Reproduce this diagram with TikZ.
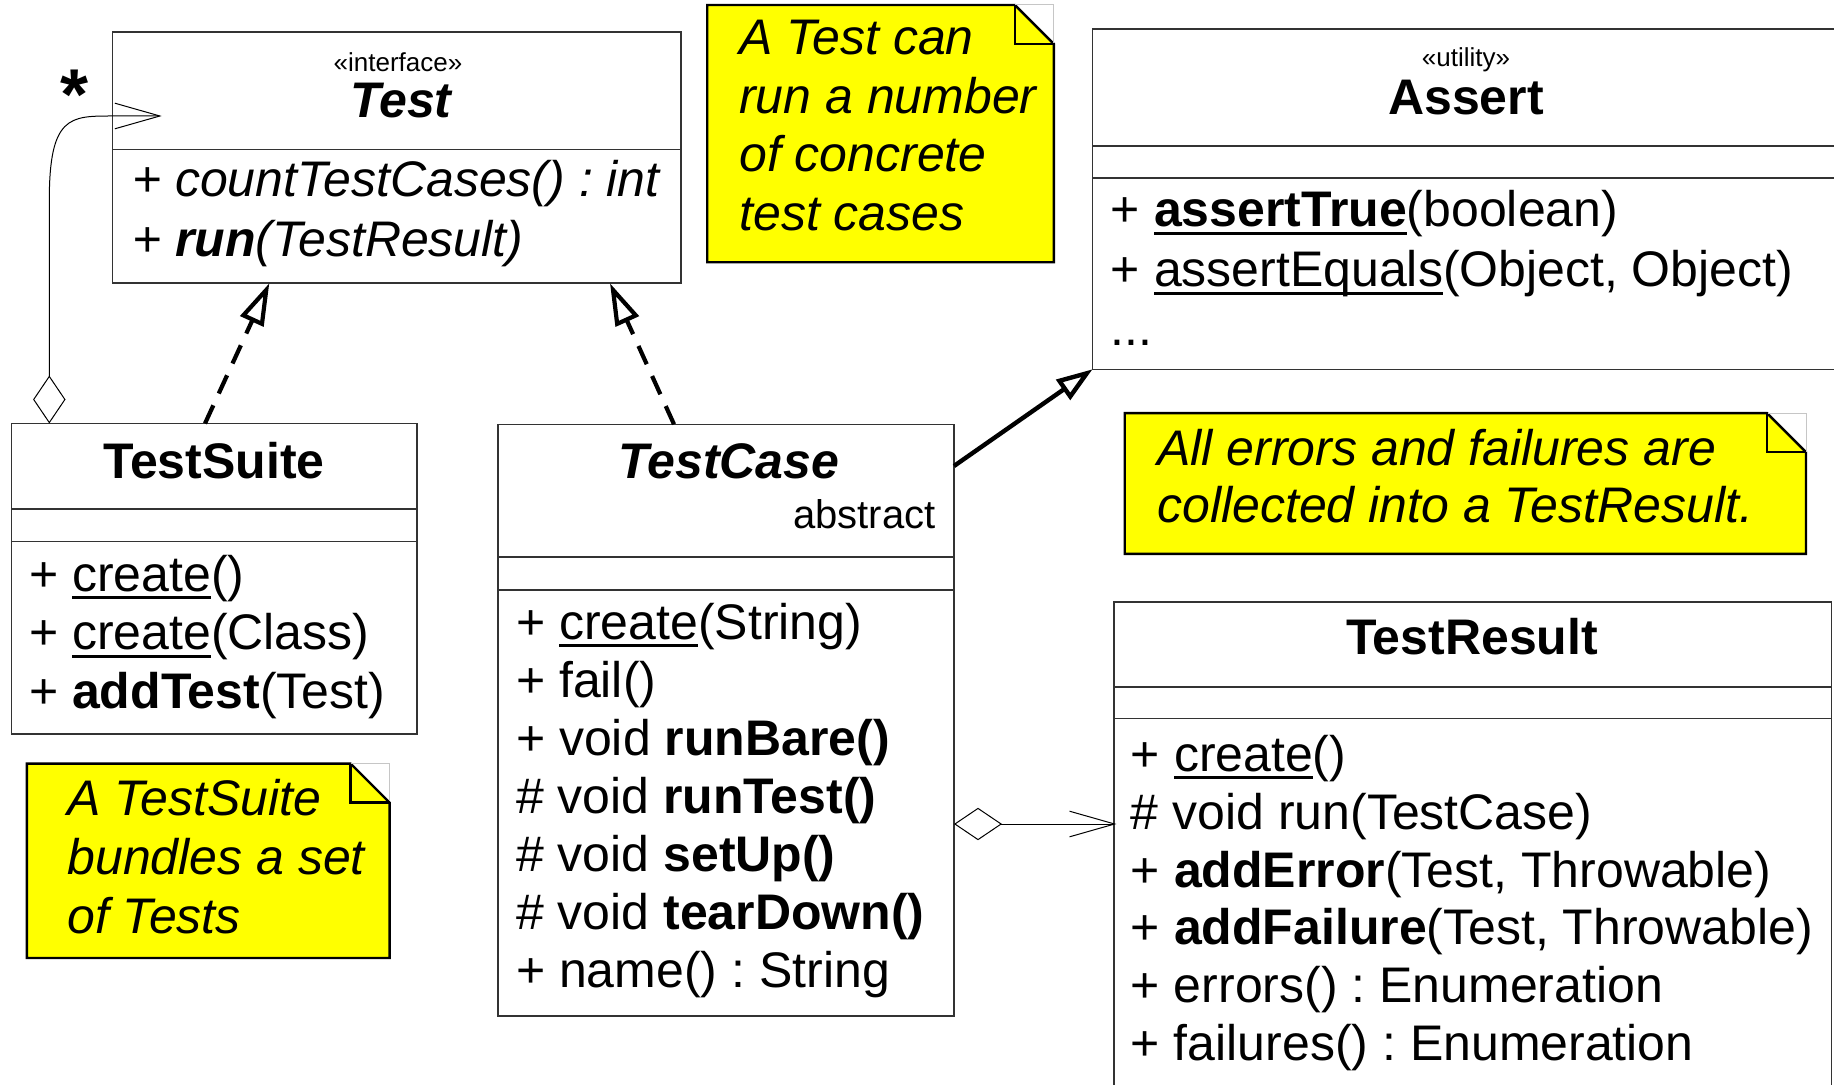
\documentclass[tikz,border=0pt]{standalone}
\usepackage{fontspec}
\setmainfont{Liberation Sans}
\usetikzlibrary{arrows.meta,fit,calc}
\frenchspacing

% underlined (static) operation names
\newcommand\umeth[1]{\setbox0=\hbox{#1}\rlap{\rule[-4pt]{\wd0}{1.5pt}}\box0}
\definecolor{noteyellow}{RGB}{255,255,0}
\definecolor{boxline}{gray}{0.2}

% yellow comment with a folded corner: left, top, right, bottom
\newcommand\yellownote[4]{%
  \path[notebody] (#1,#2) -- ({#3-39},#2) -- (#3,{#2+39}) -- (#3,#4) -- (#1,#4) -- cycle;
  \draw[gray!45, line width=0.5pt] ({#3-39},#2) -- (#3,#2) -- (#3,{#2+39});
  \draw[line width=1.2pt, line join=miter] ({#3-39},#2) -- ({#3-39},{#2+39}) -- (#3,{#2+39});
}

\begin{document}
\begin{tikzpicture}[x=0.5pt,y=-0.5pt,
  classbox/.style={draw=boxline, line width=0.8pt, fill=white, inner sep=0pt, outer sep=0pt},
  divider/.style={draw=boxline, line width=0.8pt},
  member/.style={anchor=base west, inner sep=0pt, font=\fontsize{25}{29}\selectfont},
  imember/.style={member, font=\fontsize{25}{29}\selectfont\itshape},
  classtitle/.style={anchor=base, inner sep=0pt, font=\fontsize{25}{29}\selectfont\bfseries},
  ititle/.style={classtitle, font=\fontsize{25}{29}\selectfont\bfseries\itshape},
  stereo/.style={anchor=base, inner sep=0pt, font=\fontsize{13}{15}\selectfont},
  notetext/.style={anchor=base west, inner sep=0pt, font=\fontsize{25}{29}\selectfont\itshape},
  notebody/.style={fill=noteyellow, draw=black, line width=1.2pt, line join=miter},
  realize/.style={draw=black, line width=2.1pt, dash pattern=on 10pt off 6.5pt,
    -{Triangle[open, length=21pt, width=12.5pt]}},
  generalize/.style={draw=black, line width=2.2pt,
    -{Triangle[open, length=18pt, width=12pt]}},
  aggregate/.style={draw=black, line width=0.5pt,
    {Diamond[open, length=24pt, width=16.2pt]}-{Straight Barb[length=22.5pt, width=12.8pt]}}
]
\useasboundingbox (0,0) rectangle (1834,1085);
\clip (0,0) rectangle (1834,1085);
\fill[white] (0,0) rectangle (1834,1085);

% ---------- Test (interface)
\node[classbox, fit={(112.5,32.3) (680.8,283.3)}] (test) {};
\draw[divider] (test.west |- 0,149.5) -- (test.east |- 0,149.5);
\node[stereo] (test-st) at (398,71.7) {«interface»};
\node[ititle] (test-name) at (401,117.3) {Test};
\node[imember] (test-m1) at (131.7,196.7) {+ countTestCases() : int};
\node[imember] (test-m2) at (131.7,256.7) {+ \textbf{run}(TestResult)};
\node[font=\fontsize{36}{36}\selectfont\bfseries] (mult) at (75,95) {*};

% ---------- TestSuite
\node[classbox, fit={(11.5,423.5) (416.8,733.7)}] (tsuite) {};
\draw[divider] (tsuite.west |- 0,509.2) -- (tsuite.east |- 0,509.2);
\draw[divider] (tsuite.west |- 0,541.6) -- (tsuite.east |- 0,541.6);
\node[classtitle] (tsuite-name) at (214,478.5) {TestSuite};
\node[member] (tsuite-m1) at (28.7,591.3) {+ \umeth{create}()};
\node[member] (tsuite-m2) at (28.7,649.5) {+ \umeth{create}(Class)};
\node[member] (tsuite-m3) at (28.7,708) {+ \textbf{addTest}(Test)};

% ---------- TestCase
\node[classbox, fit={(497.9,424.3) (954,1016)}] (tcase) {};
\draw[divider] (tcase.west |- 0,557) -- (tcase.east |- 0,557);
\draw[divider] (tcase.west |- 0,590) -- (tcase.east |- 0,590);
\node[ititle] (tcase-name) at (729,478.6) {TestCase};
\node[anchor=base east, inner sep=0pt, font=\fontsize{20}{24}\selectfont] (tcase-abs) at (936,528.9) {abstract};
\node[member] (tcase-m1) at (515.7,639.4) {+ \umeth{create}(String)};
\node[member] (tcase-m2) at (515.7,697.4) {+ fail()};
\node[member] (tcase-m3) at (515.7,755.4) {+ void \textbf{runBare()}};
\node[member] (tcase-m4) at (515.7,813.4) {\# void \textbf{runTest()}};
\node[member] (tcase-m5) at (515.7,871.4) {\# void \textbf{setUp()}};
\node[member] (tcase-m6) at (515.7,929.4) {\# void \textbf{tearDown()}};
\node[member] (tcase-m7) at (515.7,987.4) {+ name() : String};

% ---------- Assert (utility)
\node[classbox, fit={(1092.5,29.3) (1845,369.3)}] (assert) {};
\draw[divider] (assert.west |- 0,146) -- (assert.east |- 0,146);
\draw[divider] (assert.west |- 0,177.8) -- (assert.east |- 0,177.8);
\node[stereo] (assert-st) at (1466,66.7) {«utility»};
\node[classtitle] (assert-name) at (1466,115) {Assert};
\node[member] (assert-m1) at (1110.5,226.7) {+ \textbf{\umeth{assertTrue}}(boolean)};
\node[member] (assert-m2) at (1110.5,286.7) {+ \umeth{assertEquals}(Object, Object)};
\node[member] (assert-m3) at (1110.5,345) {...};

% ---------- TestResult
\node[classbox, fit={(1113.7,601.7) (1831.5,1100)}] (tresult) {};
\draw[divider] (tresult.west |- 0,687) -- (tresult.east |- 0,687);
\draw[divider] (tresult.west |- 0,718.5) -- (tresult.east |- 0,718.5);
\node[classtitle] (tresult-name) at (1472,654.3) {TestResult};
\node[member] (tresult-m1) at (1130.5,771) {+ \umeth{create}()};
\node[member] (tresult-m2) at (1130.5,829) {\# void run(TestCase)};
\node[member] (tresult-m3) at (1130.5,887) {+ \textbf{addError}(Test, Throwable)};
\node[member] (tresult-m4) at (1130.5,944.5) {+ \textbf{addFailure}(Test, Throwable)};
\node[member] (tresult-m5) at (1130.5,1002) {+ errors() : Enumeration};
\node[member] (tresult-m6) at (1130.5,1060) {+ failures() : Enumeration};

% ---------- comments
\yellownote{707.2}{5}{1053.9}{262.3}
\node[notetext] (note1-l1) at (738.9,55) {A Test can};
\node[notetext] (note1-l2) at (738.9,113.3) {run a number};
\node[notetext] (note1-l3) at (738.9,171.7) {of concrete};
\node[notetext] (note1-l4) at (738.9,230.7) {test cases};

\yellownote{26.8}{763.6}{389.6}{958}
\node[notetext] (note2-l1) at (67,815.2) {A TestSuite};
\node[notetext] (note2-l2) at (67,874.6) {bundles a set};
\node[notetext] (note2-l3) at (67,933.9) {of Tests};

\yellownote{1124.7}{413.1}{1806}{553.8}
\node[notetext] (note3-l1) at (1157,465.5) {All errors and failures are};
\node[notetext] (note3-l2) at (1157,522.3) {collected into a TestResult.};

% ---------- relationships
\draw[aggregate] (tsuite.north -| 49.3,0) -- (49.3,200)
  .. controls (49.3,116) and (70,116) .. (112,116)
  -- ($(test.west |- 0,116)+(49.2,0)$);
\draw[realize] (tsuite.north -| 205,0) -- (test.south -| 269.3,0);
\draw[realize] (tcase.north -| 674,0) -- (test.south -| 610,0);
\draw[generalize] (tcase.east |- 0,466) -- (assert.south west);
\draw[aggregate] (tcase.east |- 0,824) -- ($(tresult.west |- 0,824)+(2.7,0)$);
\end{tikzpicture}
\end{document}
